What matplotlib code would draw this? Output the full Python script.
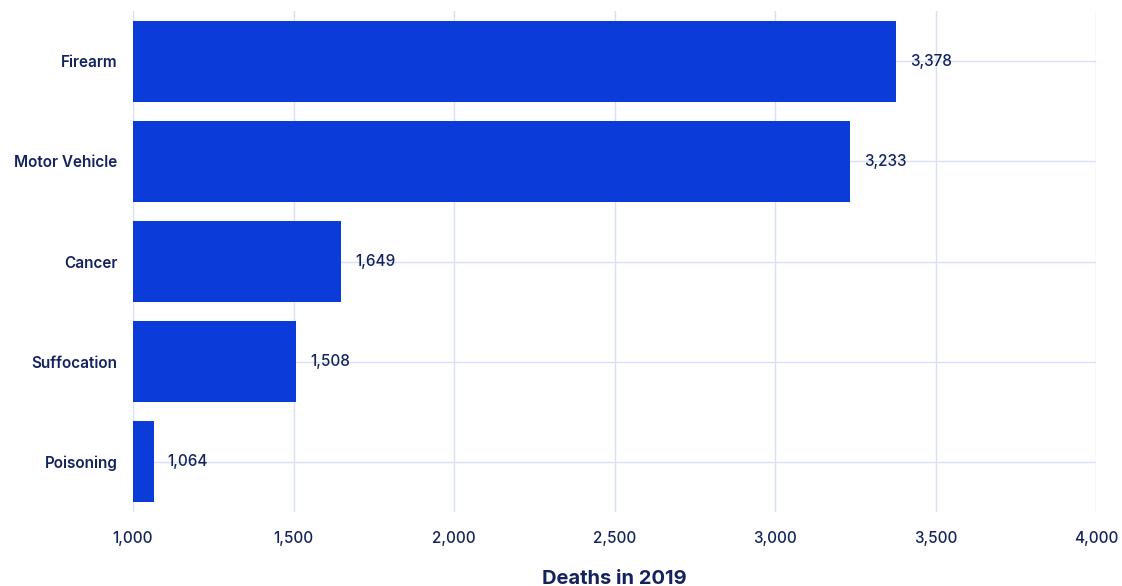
import matplotlib.pyplot as plt
from matplotlib.ticker import FuncFormatter

categories = ['Firearm', 'Motor Vehicle', 'Cancer', 'Suffocation', 'Poisoning']
deaths = [3378, 3233, 1649, 1508, 1064]
xticks = [1000, 1500, 2000, 2500, 3000, 3500, 4000]

bar_color = '#0B3BD9'
text_color = '#13235E'
grid_color = '#D9E0F5'

plt.rcParams['font.family'] = ['Inter', 'DejaVu Sans']

fig = plt.figure(figsize=(11.22, 5.86), dpi=100)
ax = fig.add_axes([133 / 1122, 1 - 512 / 586, 963 / 1122, 501 / 586])

pos = list(range(len(categories)))[::-1]
ax.barh(pos, deaths, height=0.81, color=bar_color, zorder=2)

for y, v in zip(pos, deaths):
    ax.annotate(f'{v:,}', (v, y), xytext=(10, 0), textcoords='offset points',
                va='center', ha='left', fontsize=11, fontweight='medium',
                color=text_color, zorder=3)

ax.set_xlim(1000, 4000)
ax.set_ylim(-0.5, len(categories) - 0.5)
ax.set_xticks(xticks)
ax.xaxis.set_major_formatter(FuncFormatter(lambda x, p: f'{int(x):,}'))
ax.set_yticks(pos)
ax.set_yticklabels(categories, fontweight='semibold')
for lbl in ax.get_xticklabels():
    lbl.set_fontweight('medium')

ax.grid(True, color=grid_color, linewidth=1, zorder=0)
ax.set_axisbelow(True)
for s in ax.spines.values():
    s.set_visible(False)
ax.tick_params(length=0, colors=text_color, labelsize=11)
ax.tick_params(axis='x', pad=14)
ax.tick_params(axis='y', pad=11)

ax.set_xlabel('Deaths in 2019', fontsize=14.5, fontweight='bold', color=text_color, labelpad=17)

fig.savefig('out.png', dpi=100)
